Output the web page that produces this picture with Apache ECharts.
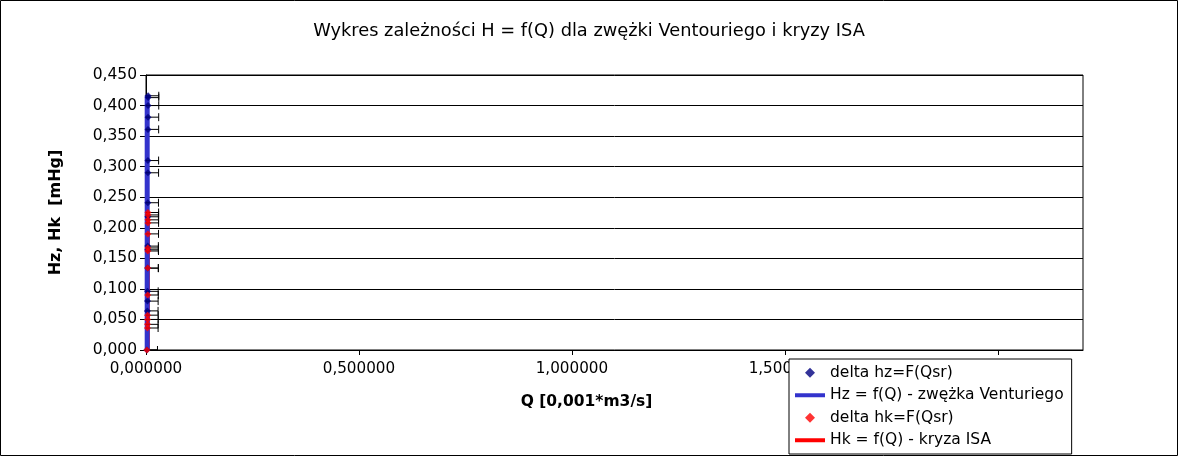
<!DOCTYPE html>
<html>
<head>
<meta charset="utf-8">
<script src="https://cdn.jsdelivr.net/npm/echarts@6/dist/echarts.min.js"></script>
<style>
html,body{margin:0;padding:0;background:#fff;}
#chart{width:1178px;height:456px;}
</style>
</head>
<body>
<div id="chart"></div>
<script>
// ---- data ----
const titleText = 'Wykres zależności H = f(Q) dla zwężki Ventouriego i kryzy ISA';
const xAxisTitle = 'Q [0,001*m3/s]';
const yAxisTitle = 'Hz, Hk  [mHg]';
const seriesNames = ['delta hz=F(Qsr)', 'Hz = f(Q) - zwężka Venturiego', 'delta hk=F(Qsr)', 'Hk = f(Q) - kryza ISA'];

// Venturi (zwężka) measured points
const hzQ = [0.0050, 0.0050, 0.0049, 0.0048, 0.0047, 0.0046, 0.0045, 0.0043, 0.0042, 0.0040, 0.0040, 0.0038, 0.0036, 0.0035, 0.0033, 0.0020];
const hzH = [0.416, 0.413, 0.400, 0.381, 0.361, 0.310, 0.290, 0.241, 0.218, 0.170, 0.164, 0.134, 0.096, 0.080, 0.064, 0.000];
const hzErr = [0.025, 0.025, 0.025, 0.025, 0.025, 0.025, 0.025, 0.025, 0.025, 0.025, 0.025, 0.025, 0.025, 0.025, 0.025, 0.025];
// Venturi theoretical line
const hzLineQ = [0.0028, 0.0028, 0.0028, 0.0028];
const hzLineH = [0.000, 0.100, 0.300, 0.416];

// ISA orifice (kryza) measured points
const hkQ = [0.0046, 0.0046, 0.0045, 0.0045, 0.0044, 0.0043, 0.0043, 0.0041, 0.0039, 0.0037, 0.0036, 0.0035, 0.0034, 0.0020];
const hkH = [0.225, 0.221, 0.213, 0.208, 0.190, 0.167, 0.162, 0.134, 0.090, 0.057, 0.050, 0.042, 0.036, 0.000];
const hkErr = [0.025, 0.025, 0.025, 0.025, 0.025, 0.025, 0.025, 0.025, 0.025, 0.025, 0.025, 0.025, 0.025, 0.025];
// ISA theoretical line
const hkLineQ = [0.0055, 0.0055, 0.0055];
const hkLineH = [0.000, 0.100, 0.225];

const xMin = 0, xMax = 2.2, xStep = 0.5;
const yMin = 0, yMax = 0.45, yStep = 0.05;

// ---- build ----
const pts = (qs, hs) => qs.map((q, i) => [q, hs[i]]);
const errs = (qs, hs, es) => qs.map((q, i) => [q, hs[i], es[i]]);
const FONT = 'DejaVu Sans';

function errRender(params, api) {
  const x = api.value(0), y = api.value(1), e = api.value(2);
  const p1 = api.coord([x - e, y]);
  const p2 = api.coord([x + e, y]);
  const cap = 4;
  const st = { stroke: '#000', lineWidth: 1 };
  return {
    type: 'group',
    children: [
      { type: 'line', shape: { x1: p1[0], y1: p1[1], x2: p2[0], y2: p2[1] }, style: st },
      { type: 'line', shape: { x1: p1[0], y1: p1[1] - cap, x2: p1[0], y2: p1[1] + cap }, style: st },
      { type: 'line', shape: { x1: p2[0], y1: p2[1] - cap, x2: p2[0], y2: p2[1] + cap }, style: st }
    ]
  };
}

const chart = echarts.init(document.getElementById('chart'), null, { renderer: 'canvas' });
const diamondIcon = 'path://M5,0 L10,5 L5,10 L0,5 Z';
const lineIcon = 'path://M0,0 L30,0 L30,4 L0,4 Z';

chart.setOption({
  animation: false,
  backgroundColor: '#fff',
  textStyle: { fontFamily: FONT },
  title: {
    text: titleText,
    left: 'center',
    top: 17,
    textStyle: { fontFamily: FONT, fontSize: 17.8, fontWeight: 'normal', color: '#000' }
  },
  grid: {
    left: 146, right: 95, top: 75, bottom: 106,
    show: true, borderColor: '#000', borderWidth: 1, backgroundColor: 'transparent'
  },
  xAxis: {
    type: 'value',
    min: xMin, max: xMax, interval: xStep,
    name: xAxisTitle,
    nameLocation: 'middle',
    nameGap: 44,
    nameTextStyle: { fontFamily: FONT, fontSize: 15.5, fontWeight: 'bold', color: '#000', padding: [0, 56, 0, 0] },
    axisLine: { show: true, onZero: false, lineStyle: { color: '#000', width: 1 } },
    axisTick: { show: true, inside: false, length: 5, lineStyle: { color: '#000' } },
    splitLine: { show: false },
    axisLabel: {
      fontFamily: FONT, fontSize: 15.2, color: '#000', margin: 12,
      showMaxLabel: false,
      formatter: v => (Math.abs(v / xStep - Math.round(v / xStep)) < 1e-9) ? v.toFixed(6).replace('.', ',') : ''
    }
  },
  yAxis: {
    type: 'value',
    min: yMin, max: yMax, interval: yStep,
    name: yAxisTitle,
    nameLocation: 'middle',
    nameGap: 82,
    nameTextStyle: { fontFamily: FONT, fontSize: 16, fontWeight: 'bold', color: '#000' },
    axisLine: { show: true, onZero: false, lineStyle: { color: '#000', width: 1 } },
    axisTick: { show: true, inside: false, length: 6, lineStyle: { color: '#000' } },
    splitLine: { show: true, lineStyle: { color: '#000', width: 1 } },
    axisLabel: {
      fontFamily: FONT, fontSize: 15.5, color: '#000', margin: 9,
      formatter: v => v.toFixed(3).replace('.', ',')
    }
  },
  legend: {
    orient: 'vertical',
    left: 789, top: 359,
    backgroundColor: '#fff',
    borderColor: '#000', borderWidth: 1, borderRadius: 0,
    padding: [5, 8, 5, 6],
    itemWidth: 30, itemHeight: 10, itemGap: 5,
    textStyle: { fontFamily: FONT, fontSize: 15.5, color: '#000', lineHeight: 17.5 },
    data: [
      { name: seriesNames[0], icon: diamondIcon },
      { name: seriesNames[1], icon: lineIcon },
      { name: seriesNames[2], icon: diamondIcon },
      { name: seriesNames[3], icon: lineIcon }
    ]
  },
  graphic: [{
    type: 'rect', z: 100, silent: true,
    shape: { x: 0.5, y: 0.5, width: 1177, height: 455 },
    style: { fill: 'none', stroke: '#000', lineWidth: 1 }
  }],
  series: [
    {
      name: seriesNames[3], type: 'line', data: pts(hkLineQ, hkLineH),
      showSymbol: false, symbol: 'none', z: 2,
      lineStyle: { color: '#ff0000', width: 3 }, itemStyle: { color: '#ff0000' }
    },
    {
      name: seriesNames[1], type: 'line', data: pts(hzLineQ, hzLineH),
      showSymbol: false, symbol: 'none', z: 3,
      lineStyle: { color: '#3333cc', width: 5 }, itemStyle: { color: '#3333cc' }
    },
    {
      name: 'errHz', type: 'custom', data: errs(hzQ, hzH, hzErr),
      renderItem: errRender, clip: true, z: 4, silent: true
    },
    {
      name: 'errHk', type: 'custom', data: errs(hkQ, hkH, hkErr),
      renderItem: errRender, clip: true, z: 4, silent: true
    },
    {
      name: seriesNames[0], type: 'scatter', data: pts(hzQ, hzH),
      symbol: 'diamond', symbolSize: 7, z: 5,
      itemStyle: { color: '#000080' }
    },
    {
      name: seriesNames[2], type: 'scatter', data: pts(hkQ, hkH),
      symbol: 'diamond', symbolSize: 7, z: 5,
      itemStyle: { color: '#ff0000' }
    }
  ]
});
</script>
</body>
</html>
